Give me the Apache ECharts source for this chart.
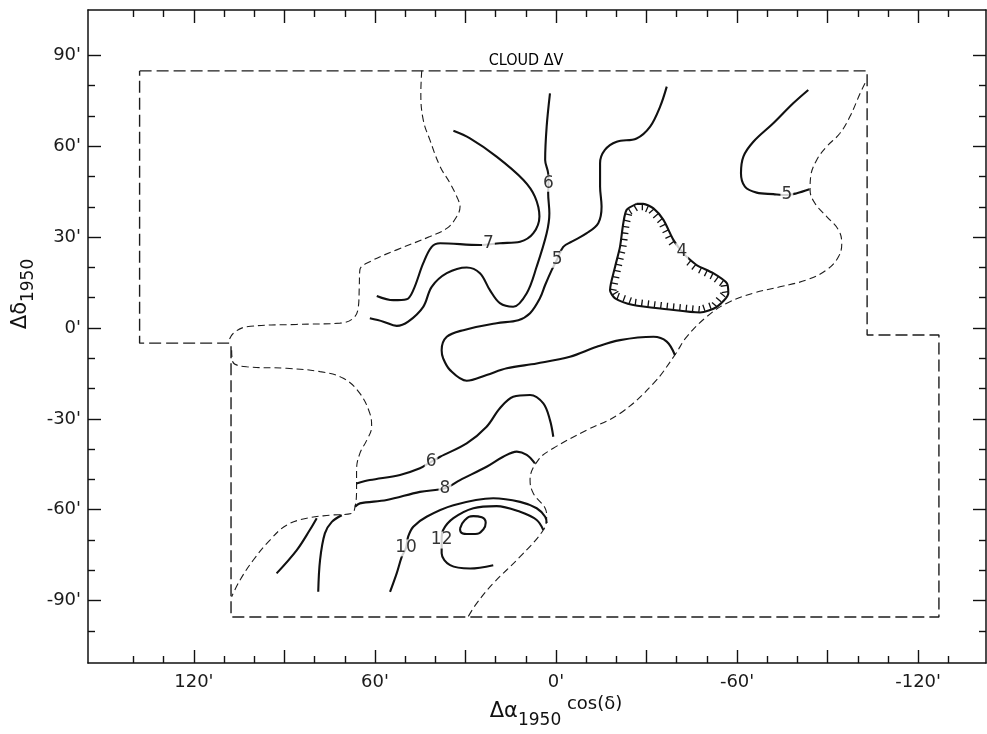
<!DOCTYPE html>
<html><head><meta charset="utf-8">
<script src="https://cdn.jsdelivr.net/npm/echarts@6/dist/echarts.min.js"></script>
<style>html,body{margin:0;padding:0;background:#fff}#c{width:987px;height:734px}</style>
</head><body><div id="c"></div>
<script>
// ---- axes (arc-minutes) ----
const xRange = [-142.5, 155.1];
const yRange = [-110.6, 105.0];
const xMajorTicks = [-120,-90,-60,-30,0,30,60,90,120];
const xMinorTicks = [-130,-110,-100,-80,-70,-50,-40,-20,-10,10,20,40,50,70,80,100,110,130,140];
const xTickLabels = [120,60,0,-60,-120];
const yMajorTicks = [-90,-60,-30,0,30,60,90];
const yMinorTicks = [-100,-80,-70,-50,-40,-20,-10,10,20,40,50,70,80];
const yTickLabels = [-90,-60,-30,0,30,60,90];

// ---- survey boundary and cloud edge (dashed) ----
const surveyBoundary = [[138,84.9],[-103.1,84.9],[-103.1,-2.3],[-126.9,-2.3],[-126.9,-95.4],[107.7,-95.4],[107.7,-5.0],[138,-5.0],[138,84.9]];
const cloudEdgeUpperLeft = [[44.5,84.9],[44.8,77.5],[44.0,68.7],[41.8,62.1],[38.4,53.3],[35.1,47.8],[32.4,42.3],[31.8,40.1],[32.9,36.8],[36.2,32.9],[41.8,30.2],[52.8,25.8],[61.7,21.9],[65.0,19.2],[65.2,13.6],[65.5,7.0],[67.2,3.2],[71.6,1.6],[85.9,1.2],[102.5,0.4],[107.0,-1.8],[108.5,-4.5]];
const cloudEdgeLowerLeft = [[107.5,-7.3],[107.1,-11.2],[102.5,-12.8],[89.3,-13.3],[78.2,-14.4],[70.5,-16.6],[65.0,-21.6],[61.7,-28.2],[61.1,-32.6],[62.7,-37.0],[65.0,-41.4],[66.1,-46.9],[66.1,-53.5],[66.6,-59.0],[67.7,-61.2],[74.9,-61.8],[82.6,-62.8],[89.3,-65.1],[94.8,-70.0],[100.3,-76.6],[104.7,-83.2],[107.5,-88.7]];
const cloudEdgeRight = [[-102.4,80.8],[-100.8,77.5],[-97.4,69.8],[-94.1,64.3],[-89.7,59.9],[-86.4,55.5],[-84.4,50.0],[-84.2,45.6],[-85.8,41.2],[-89.7,36.8],[-93.6,32.4],[-94.7,28.0],[-93.6,23.5],[-89.7,19.2],[-83.1,15.9],[-74.2,13.6],[-65.4,11.5],[-56.6,8.2],[-49.9,3.7],[-43.3,-2.9],[-39.4,-8.9],[-32.3,-18.3],[-21.2,-28.2],[-10.2,-33.7],[0.9,-39.7],[5.9,-43.6],[8.6,-50.2],[7.5,-54.6],[3.6,-59.5],[3.1,-62.3],[4.2,-66.7],[11.9,-75.5],[20.8,-84.3],[26.3,-90.9],[29.1,-95.3]];

// ---- contours of cloud ΔV ----
const contour7 = [[59.4,10.6],[53.9,9.2],[49.5,9.5],[47.3,12.5],[44.0,21.4],[41.2,26.8],[38.4,28.0],[25.2,27.4],[18.6,28.0],[11.9,28.5],[7.5,31.3],[5.5,36.8],[7.0,43.4],[10.8,48.9],[19.7,56.6],[28.5,62.6],[34.0,65.1]];
const contour6Upper = [[2.0,77.5],[3.1,66.5],[3.6,55.5],[2.6,51.1],[2.5,47.8],[2.6,44.5],[2.2,37.9],[3.1,31.3],[6.4,20.3],[9.7,11.5],[14.2,7.0],[18.6,8.2],[21.9,12.5],[25.2,18.1],[29.6,20.0],[36.2,18.1],[41.2,13.6],[44.0,7.0],[49.0,2.1],[52.8,0.7],[57.2,2.1],[61.7,3.2]];
const contour5Middle = [[-36.7,79.7],[-34.5,73.1],[-31.2,66.5],[-26.7,62.6],[-20.1,61.5],[-16.2,58.8],[-14.6,54.4],[-14.6,46.7],[-15.1,40.1],[-14.0,34.6],[-10.2,31.3],[-5.2,28.5],[-2.4,26.8],[-0.4,22.7],[1.4,19.2],[3.6,14.2],[5.3,9.9],[8.6,4.9],[12.5,2.6],[19.7,1.6],[30.7,-0.7],[36.2,-2.9],[37.9,-7.3],[37.4,-10.0],[35.1,-13.9],[29.6,-17.4],[23.0,-15.5],[16.3,-13.3],[6.4,-11.7],[-4.6,-9.5],[-13.5,-6.2],[-21.2,-4.0],[-32.3,-2.9],[-36.7,-4.5],[-39.4,-8.9]];
const contour5Right = [[-83.6,78.6],[-78.6,74.2],[-72.0,67.6],[-65.4,61.5],[-62.1,56.6],[-61.3,51.1],[-62.6,46.7],[-66.5,44.7],[-72.0,44.2],[-76.5,43.9],[-79.8,44.5],[-84.0,45.8]];
const contour4 = [[-26.7,41.0],[-23.4,39.0],[-22.3,34.6],[-21.2,26.8],[-19.6,20.3],[-17.9,12.5],[-19.6,9.8],[-25.6,7.6],[-36.7,6.2],[-47.7,5.1],[-53.3,7.0],[-57.1,11.5],[-56.6,14.8],[-52.1,18.1],[-46.6,20.8],[-43.3,23.5],[-41.7,25.2],[-38.9,29.1],[-35.6,35.7],[-32.3,39.5],[-28.9,41.0],[-26.7,41.0]];
const contour6Lower = [[66.1,-51.3],[61.7,-50.2],[51.7,-48.5],[45.1,-46.3],[41.4,-44.2],[38.4,-42.5],[29.6,-38.1],[23.0,-32.6],[18.6,-26.5],[14.2,-22.7],[8.6,-22.1],[4.2,-24.9],[2.0,-30.4],[0.9,-35.9]];
const contour8 = [[66.6,-59.0],[65.0,-57.9],[56.1,-56.8],[45.1,-54.1],[36.8,-52.9],[31.8,-50.2],[23.0,-45.8],[17.5,-42.5],[13.0,-40.8],[9.7,-41.9],[7.0,-44.7]];
const contour10 = [[55.0,-87.1],[52.8,-81.0],[51.1,-75.5],[49.7,-72.6],[49.0,-68.9],[47.3,-65.6],[42.9,-62.3],[34.0,-58.5],[20.8,-56.2],[11.9,-57.4],[6.4,-59.5],[3.6,-62.3],[3.1,-64.4]];
const contour12 = [[20.8,-78.3],[28.5,-79.4],[35.1,-78.3],[37.9,-74.4],[37.9,-70.0],[37.4,-66.7],[34.0,-62.8],[27.4,-59.5],[19.7,-58.8],[11.9,-60.7],[6.4,-63.4],[4.2,-66.7]];
const contour12Core = [[31.8,-66.2],[30.2,-63.4],[27.4,-62.1],[24.6,-62.5],[23.3,-64.3],[24.1,-66.5],[26.8,-68.0],[29.6,-68.0],[31.6,-67.3],[31.8,-66.2]];
const contourSW1 = [[92.6,-81.0],[85.9,-73.3],[81.6,-66.7],[79.3,-62.8]];
const contourSW2 = [[78.8,-87.1],[78.2,-76.6],[76.6,-67.8],[74.3,-64.0],[71.0,-61.8]];

const contourLabels = [
  {name:'7', value:[22.4,28.0]}, {name:'6', value:[2.5,47.8]}, {name:'5', value:[-0.4,22.7]},
  {name:'5', value:[-76.5,43.9]}, {name:'4', value:[-41.7,25.2]}, {name:'6', value:[41.4,-44.2]},
  {name:'8', value:[36.8,-52.9]}, {name:'10', value:[49.7,-72.6]}, {name:'12', value:[37.9,-70.0]}
];
const hatchLabel = [-41.7,25.2];

const INK = '#111';
const FONT = 'DejaVu Sans';

function solid(data, smooth) {
  return {type:'line', xAxisIndex:0, yAxisIndex:0, data, smooth: smooth === undefined ? 0.35 : smooth,
    showSymbol:false, symbol:'none', silent:true, z:2,
    lineStyle:{color:INK, width:2.1}};
}
function dashed(data, dash, width, smooth) {
  return {type:'line', xAxisIndex:0, yAxisIndex:0, data, smooth: smooth, showSymbol:false, symbol:'none', silent:true, z:1,
    lineStyle:{color:'#1c1c1c', width, type:dash}};
}
function xAxisDef(pos, ticks, len, labels, line) {
  return {type:'value', min:xRange[0], max:xRange[1], inverse:true, position:pos,
    splitLine:{show:false},
    axisLine:{show:line, onZero:false, lineStyle:{color:INK, width:1.5}},
    axisTick:{show:true, inside:true, length:len, customValues:ticks, lineStyle:{color:INK, width:1.4}},
    axisLabel: labels ? {show:true, customValues:labels, formatter:v=>v+"'", fontSize:18, fontFamily:FONT, color:'#1a1a1a', margin:10} : {show:false}
  };
}
function yAxisDef(pos, ticks, len, labels, line) {
  return {type:'value', min:yRange[0], max:yRange[1], position:pos,
    splitLine:{show:false},
    axisLine:{show:line, onZero:false, lineStyle:{color:INK, width:1.5}},
    axisTick:{show:true, inside:true, length:len, customValues:ticks, lineStyle:{color:INK, width:1.4}},
    axisLabel: labels ? {show:true, customValues:labels, formatter:v=>v+"'", fontSize:18, fontFamily:FONT, color:'#1a1a1a', margin:7} : {show:false}
  };
}

function hatchRender(params, api) {
  const pts = contour4.map(p => api.coord(p));
  const lab = api.coord(hatchLabel);
  const children = [];
  const step = 6.4, len = 6.5;
  let carry = 3;
  for (let i = 0; i < pts.length - 1; i++) {
    const x0 = pts[i][0], y0 = pts[i][1], x1 = pts[i+1][0], y1 = pts[i+1][1];
    const dx = x1 - x0, dy = y1 - y0, L = Math.hypot(dx, dy);
    if (L === 0) continue;
    const ux = dx / L, uy = dy / L;
    let t = carry;
    while (t < L) {
      const px = x0 + ux * t, py = y0 + uy * t;
      if (Math.hypot(px - lab[0], py - lab[1]) > 10) {
        children.push({type:'line', shape:{x1:px, y1:py, x2:px + uy * len, y2:py - ux * len},
          style:{stroke:INK, lineWidth:1.3}});
      }
      t += step;
    }
    carry = t - L;
  }
  return {type:'group', children};
}

const chart = echarts.init(document.getElementById('c'), null, {renderer:'canvas'});
chart.setOption({
  animation:false,
  backgroundColor:'#fff',
  grid:{left:88, right:1, top:10, bottom:71, containLabel:false, outerBoundsMode:'none'},
  xAxis:[
    xAxisDef('bottom', xMajorTicks, 13, xTickLabels, true),
    xAxisDef('bottom', xMinorTicks, 7, null, false),
    xAxisDef('top', xMajorTicks, 13, null, true),
    xAxisDef('top', xMinorTicks, 7, null, false)
  ],
  yAxis:[
    yAxisDef('left', yMajorTicks, 13, yTickLabels, true),
    yAxisDef('left', yMinorTicks, 7, null, false),
    yAxisDef('right', yMajorTicks, 13, null, true),
    yAxisDef('right', yMinorTicks, 7, null, false)
  ],
  series:[
    dashed(surveyBoundary, [12,5], 1.4, false),
    dashed(cloudEdgeUpperLeft, [7,4], 1.1, 0.4),
    dashed(cloudEdgeLowerLeft, [7,4], 1.1, 0.4),
    dashed(cloudEdgeRight, [7,4], 1.1, 0.4),
    solid(contour7), solid(contour6Upper), solid(contour5Middle), solid(contour5Right),
    solid(contour4, 0.25), solid(contour6Lower), solid(contour8), solid(contour10),
    solid(contour12), solid(contour12Core, 0.5), solid(contourSW1), solid(contourSW2),
    {type:'custom', xAxisIndex:0, yAxisIndex:0, data:[[0,0]], renderItem:hatchRender, silent:true, z:2},
    {type:'scatter', xAxisIndex:0, yAxisIndex:0, data:contourLabels, symbolSize:1, silent:true, z:5,
      itemStyle:{color:'rgba(0,0,0,0)'},
      label:{show:true, position:'inside', formatter:'{b}', fontSize:17, fontFamily:FONT, color:'#000',
        textBorderWidth:0, backgroundColor:'#fff', padding:[0,1]}}
  ],
  graphic:[
    {type:'text', x:526, y:61, z:10, style:{text:'CLOUD ΔV', fontSize:16, fontFamily:'DejaVu Sans Condensed', fill:'#000', align:'center', verticalAlign:'middle'}},
    {type:'text', x:556, y:712, z:10, style:{text:'{a|Δα}{b|1950}{c| cos(δ)}', align:'center', verticalAlign:'middle', fill:INK,
      rich:{a:{fontSize:21, fontFamily:FONT, lineHeight:34, verticalAlign:'middle', fill:INK},
            b:{fontSize:17, fontFamily:FONT, verticalAlign:'bottom', fill:INK},
            c:{fontSize:18, fontFamily:FONT, verticalAlign:'top', fill:INK}}}},
    {type:'text', x:21, y:294, rotation:Math.PI/2, z:10, style:{text:'{a|Δδ}{b|1950}', align:'center', verticalAlign:'middle', fill:INK,
      rich:{a:{fontSize:21, fontFamily:FONT, lineHeight:32, verticalAlign:'middle', fill:INK},
            b:{fontSize:17, fontFamily:FONT, verticalAlign:'bottom', fill:INK}}}}
  ]
});
</script></body></html>
